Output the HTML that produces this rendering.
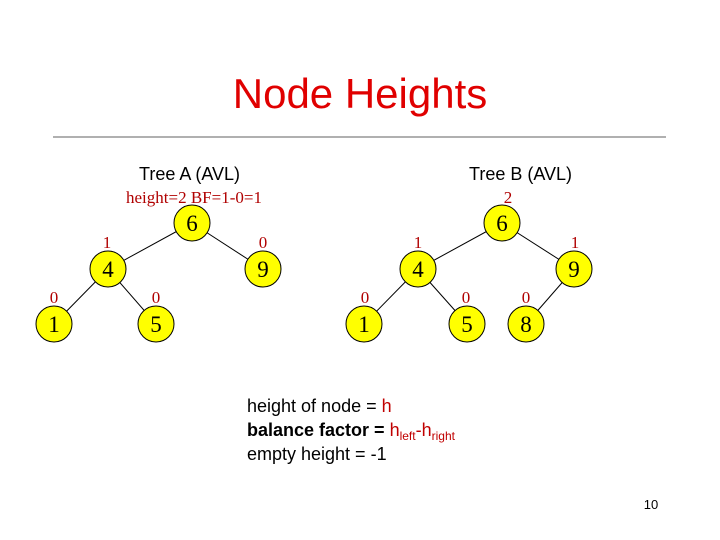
<!DOCTYPE html>
<html><head><meta charset="utf-8"><style>body{margin:0;background:#fff}svg{display:block}</style></head><body>
<svg width="720" height="540" viewBox="0 0 720 540" xmlns="http://www.w3.org/2000/svg">
<rect width="720" height="540" fill="#fff"/>
<text x="360" y="108" text-anchor="middle" font-family="Liberation Sans, sans-serif" font-size="42" fill="#e00000">Node Heights</text>
<line x1="53" y1="137" x2="666" y2="137" stroke="#808080" stroke-width="1.3"/>
<g font-family="Liberation Sans, sans-serif" font-size="18" fill="#000">
<text x="139" y="180">Tree A (AVL)</text>
<text x="469" y="180">Tree B (AVL)</text>
</g>
<g font-family="Liberation Serif, serif" font-size="17" fill="#b00000" text-anchor="middle">
<text x="126" y="203" text-anchor="start">height=2  BF=1-0=1</text>
<text x="508" y="203">2</text>
<text x="107" y="248">1</text><text x="263" y="248">0</text>
<text x="54" y="303">0</text><text x="156" y="303">0</text>
<text x="418" y="248">1</text><text x="575" y="248">1</text>
<text x="365" y="303">0</text><text x="466" y="303">0</text><text x="526" y="303">0</text>
</g>
<g stroke="#000" stroke-width="1">
<line x1="192" y1="223" x2="108" y2="269"/><line x1="192" y1="223" x2="263" y2="269"/>
<line x1="108" y1="269" x2="54" y2="324"/><line x1="108" y1="269" x2="156" y2="324"/>
<line x1="502" y1="223" x2="418" y2="269"/><line x1="502" y1="223" x2="574" y2="269"/>
<line x1="418" y1="269" x2="364" y2="324"/><line x1="418" y1="269" x2="467" y2="324"/>
<line x1="574" y1="269" x2="526" y2="324"/>
</g>
<g fill="#ffff00" stroke="#000" stroke-width="1">
<circle cx="192" cy="223" r="18"/><circle cx="108" cy="269" r="18"/><circle cx="263" cy="269" r="18"/>
<circle cx="54" cy="324" r="18"/><circle cx="156" cy="324" r="18"/>
<circle cx="502" cy="223" r="18"/><circle cx="418" cy="269" r="18"/><circle cx="574" cy="269" r="18"/>
<circle cx="364" cy="324" r="18"/><circle cx="467" cy="324" r="18"/><circle cx="526" cy="324" r="18"/>
</g>
<g font-family="Liberation Serif, serif" font-size="23" fill="#000" text-anchor="middle">
<text x="192" y="231">6</text><text x="108" y="277">4</text><text x="263" y="277">9</text>
<text x="54" y="332">1</text><text x="156" y="332">5</text>
<text x="502" y="231">6</text><text x="418" y="277">4</text><text x="574" y="277">9</text>
<text x="364" y="332">1</text><text x="467" y="332">5</text><text x="526" y="332">8</text>
</g>
<g font-family="Liberation Sans, sans-serif" font-size="18" fill="#000">
<text x="247" y="412">height of node = <tspan fill="#c00000">h</tspan></text>
<text x="247" y="436" font-weight="bold">balance factor = <tspan fill="#c00000" font-weight="normal">h<tspan font-size="12" dy="4">left</tspan><tspan dy="-4">-h</tspan><tspan font-size="12" dy="4">right</tspan></tspan></text>
<text x="247" y="460">empty height = -1</text>
<text x="651" y="509" font-size="13" text-anchor="middle">10</text>
</g>
</svg>
</body></html>
